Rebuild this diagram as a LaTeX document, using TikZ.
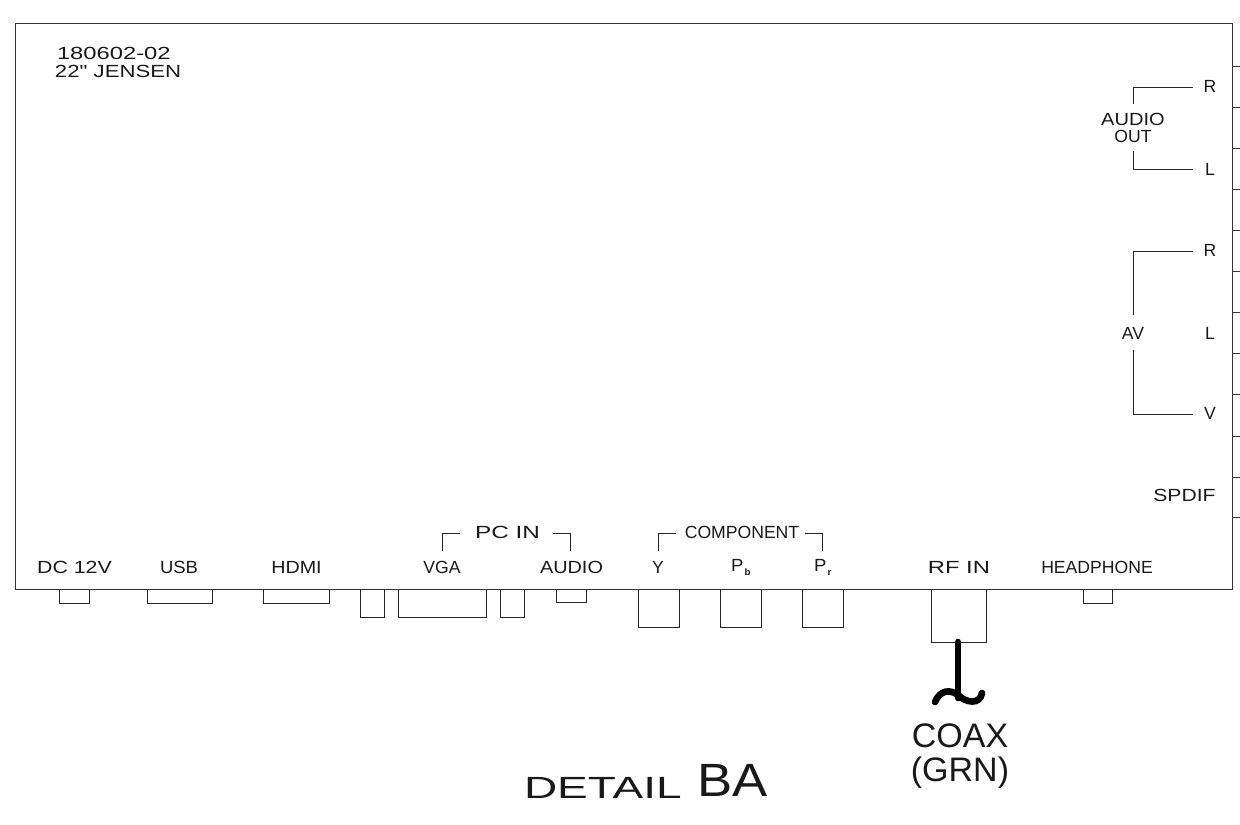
\documentclass[tikz,border=0pt]{standalone}
\usepackage{fontspec}
\setmainfont{Liberation Sans}
\newfontfamily\plainfont{Liberation Sans}
\newcommand{\lab}{\fontsize{13.2pt}{14pt}\selectfont}
\newcommand{\sublab}{\fontsize{7pt}{8pt}\selectfont\bfseries}
\tikzset{
  x=0.75pt,y=-0.75pt,
  wire/.style={line width=0.72pt,black!85,line cap=butt},
  box/.style={line width=0.72pt,black!85},
  edge/.style={line width=0.75pt,black!80},
  txt/.style={inner sep=0pt,outer sep=0pt,anchor=center,text=black!90,font=\lab},
  sx/.style={xscale=#1,transform shape},
}
\begin{document}
\begin{tikzpicture}
\useasboundingbox (0,0) rectangle (1240,825);
\fill[white] (0,0) rectangle (1240,825);
% panel
\coordinate (pTL) at (15,23);
\coordinate (pTR) at (1232,23);
\coordinate (pBR) at (1232,589);
\coordinate (pBL) at (15,589);
\draw[edge] (pBL) -- (pTL) -- (pTR) -- (pBR) -- cycle;
% right ticks
\foreach \y in {66,107,148,189,230,271,312,353,394,436,477,517}
  \draw[edge] (1232,\y) -- (1240,\y);
% connectors on bottom edge
\foreach \a/\b/\c in {59/89/603,147/212/603,263/329/603,360/384/617,398/486/617,500/524/617,556/586/602,638/679/627,720/761/627,802/843/627,931/986/642,1083/1112/603}
  \draw[box] (\a,589) -- (\a,\c) -- (\b,\c) -- (\b,589);
% labels
\node[txt,anchor=west,sx=1.35] (id1) at (57,53) {180602-02};
\node[txt,anchor=west,sx=1.26] (id2) at (55,71) {\plainfont 22" JENSEN};
\node[txt,sx=1.21] (dc) at (74.5,567) {DC 12V};
\node[txt,sx=1.05] (usb) at (179,567) {USB};
\node[txt,sx=1.12] (hdmi) at (296.5,567) {HDMI};
\node[txt] (vga) at (442,567) {VGA};
\node[txt,sx=1.13] (aud) at (571.5,567) {AUDIO};
\node[txt,sx=1.38] (pcin) at (507.5,532) {PC IN};
\node[txt] (comp) at (742,532) {COMPONENT};
\node[txt] (y) at (658,567) {Y};
\node[txt,anchor=west,sx=1.05] (pb) at (731,567) {P\raisebox{-3pt}{\hspace{1pt}\sublab b}};
\node[txt,anchor=west,sx=1.05] (pr) at (814,567) {P\raisebox{-3pt}{\hspace{1pt}\sublab r}};
\node[txt,sx=1.35] (rf) at (959,567) {RF IN};
\node[txt] (hp) at (1097,567) {HEADPHONE};
\node[txt] (aoR) at (1210,86) {R};
\node[txt] (aoL) at (1210,169) {L};
\node[txt,sx=1.14] (ao1) at (1133,119) {AUDIO};
\node[txt] (ao2) at (1133,136) {OUT};
\node[txt] (avR) at (1210,250) {R};
\node[txt] (avL) at (1210,333) {L};
\node[txt] (av) at (1133,333) {AV};
\node[txt] (avV) at (1210,413) {V};
\node[txt,sx=1.2] (sp) at (1184.5,495) {SPDIF};
% brackets
\coordinate (a1) at (1133,104); \coordinate (a1c) at (1133,87); \coordinate (a1e) at (1193,87);
\draw[wire] (a1) -- (a1c) -- (a1e);
\coordinate (a2) at (1133,151); \coordinate (a2c) at (1133,169); \coordinate (a2e) at (1193,169);
\draw[wire] (a2) -- (a2c) -- (a2e);
\coordinate (b1) at (1133,315); \coordinate (b1c) at (1133,251); \coordinate (b1e) at (1193,251);
\draw[wire] (b1) -- (b1c) -- (b1e);
\coordinate (b2) at (1133,350); \coordinate (b2c) at (1133,414); \coordinate (b2e) at (1193,414);
\draw[wire] (b2) -- (b2c) -- (b2e);
\coordinate (c1) at (442,551); \coordinate (c1c) at (442,533); \coordinate (c1e) at (460,533);
\draw[wire] (c1) -- (c1c) -- (c1e);
\coordinate (c2) at (570,551); \coordinate (c2c) at (570,533); \coordinate (c2e) at (553,533);
\draw[wire] (c2) -- (c2c) -- (c2e);
\coordinate (d1) at (658,551); \coordinate (d1c) at (658,533); \coordinate (d1e) at (676,533);
\draw[wire] (d1) -- (d1c) -- (d1e);
\coordinate (d2) at (822,551); \coordinate (d2c) at (822,533); \coordinate (d2e) at (805,533);
\draw[wire] (d2) -- (d2c) -- (d2e);
% coax
\coordinate (cx0) at (958,642);
\coordinate (cx1) at (958,698);
\draw[line width=5pt,black,line cap=round] (cx0) -- (cx1);
\draw[line width=5pt,black,line cap=round] (935,702) .. controls (940,690) and (950,689) .. (958,695) .. controls (966,703) and (980,705) .. (982,693);
\node[txt,anchor=base,font=\fontsize{25.5pt}{26pt}\selectfont] (coax) at (960,747) {COAX};
\node[txt,anchor=base,font=\fontsize{25.5pt}{26pt}\selectfont] (grn) at (960,781) {(GRN)};
\node[txt,anchor=base west,font=\fontsize{23pt}{24pt}\selectfont,sx=1.5] (det) at (524,798) {DETAIL};
\node[txt,anchor=base west,font=\fontsize{35pt}{36pt}\selectfont,sx=1.13] (ba) at (697,796) {BA};
\end{tikzpicture}
\end{document}
